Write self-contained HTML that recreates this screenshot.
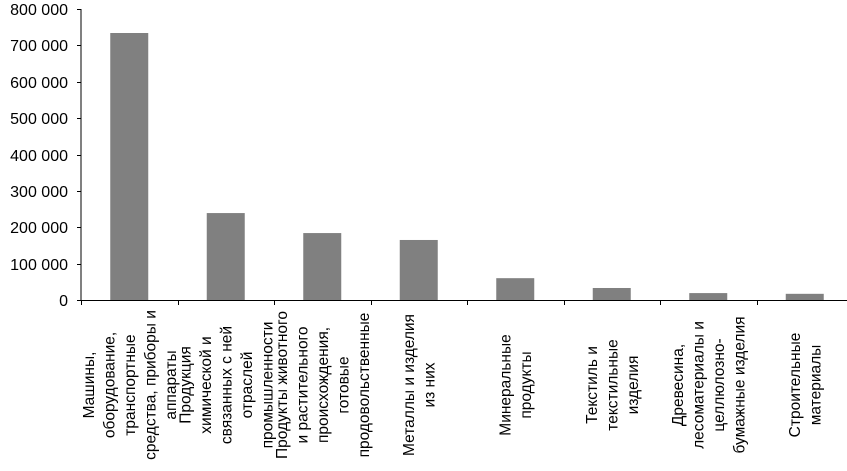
<!DOCTYPE html>
<html><head><meta charset="utf-8"><style>
html,body{margin:0;padding:0;background:#fff;}
svg{display:block;font-family:"Liberation Sans",Arial,sans-serif;}
</style></head><body>
<svg id="chart" width="847" height="471" viewBox="0 0 847 471" xmlns="http://www.w3.org/2000/svg">
<g id="axes"></g>
<g id="bars"></g>
<g id="labels"></g>
</svg>
<script>
const categories = [
  ["Машины,","оборудование,","транспортные","средства, приборы и","аппараты"],
  ["Продукция","химической и","связанных с ней","отраслей","промышленности"],
  ["Продукты животного","и растительного","происхождения,","готовые","продовольственные"],
  ["Металлы и изделия","из них"],
  ["Минеральные","продукты"],
  ["Текстиль и","текстильные","изделия"],
  ["Древесина,","лесоматериалы и","целлюлозно-","бумажные изделия"],
  ["Строительные","материалы"]
];
const values = [734000, 239000, 184000, 165000, 60000, 33000, 19000, 17000];
const yTicks = [0,100000,200000,300000,400000,500000,600000,700000,800000];
const yTickLabels = ["0","100 000","200 000","300 000","400 000","500 000","600 000","700 000","800 000"];

const NS="http://www.w3.org/2000/svg";
const X0=81, Y0=300, YTOP=9, STEP=96.5, YMAX=800000, BW=38;
const y = v => Y0 - v/YMAX*(Y0-YTOP);
const xc = i => X0 + STEP*(i+0.5);
function mk(tag, attrs, parent){const e=document.createElementNS(NS,tag);for(const k in attrs)e.setAttribute(k,attrs[k]);parent.appendChild(e);return e;}
const axes=document.getElementById('axes'), bars=document.getElementById('bars'), labels=document.getElementById('labels');

const ya=mk('line',{x1:X0,y1:YTOP,x2:X0,y2:Y0,stroke:'#000','stroke-width':1},axes);


const xa=mk('line',{x1:X0,y1:Y0+0.5,x2:847,y2:Y0+0.5,stroke:'#000','stroke-width':1},axes);



yTicks.forEach((t,i)=>{
  const yy=Math.round(y(t))+0.5;
  const tk=mk('line',{x1:X0-4,y1:yy,x2:X0,y2:yy,stroke:'#000'},axes);
  
  
  const tx=mk('text',{x:X0-13,y:yy+5.5,'text-anchor':'end','font-size':'16',fill:'#000'},axes);
  tx.textContent=yTickLabels[i];
  
  
});
for(let i=0;i<=categories.length;i++){
  const xx=Math.round(X0+STEP*i)+0.5;
  const tk=mk('line',{x1:xx,y1:Y0,x2:xx,y2:Y0+5,stroke:'#000'},axes);
  
  
}
values.forEach((v,i)=>{
  const r=mk('rect',{x:xc(i)-BW/2,y:y(v),width:BW,height:Y0-y(v),fill:'#808080'},bars);
  
  
});
categories.forEach((lines,i)=>{
  const cx=xc(i), cy=385, n=lines.length, lh=20.5;
  const t=mk('text',{transform:`translate(${cx},${cy}) rotate(-90)`,'text-anchor':'middle','font-size':'15.5',fill:'#000'},labels);
  
  
  lines.forEach((ln,j)=>{
    const ts=mk('tspan',{x:0,y:(j-(n-1)/2)*lh+5.5},t);
    ts.textContent=ln;
  });
});
</script>
</body></html>
